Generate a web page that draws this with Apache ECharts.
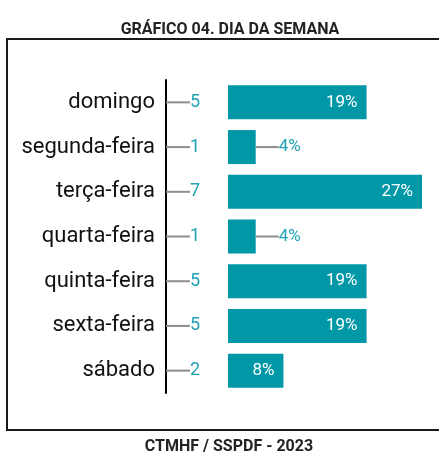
<!DOCTYPE html>
<html>
<head>
<meta charset="utf-8">
<script src="https://cdn.jsdelivr.net/npm/echarts@6/dist/echarts.min.js"></script>
<style>
  html, body { margin: 0; padding: 0; background: #fff; }
  #chart { width: 439px; height: 455px; }
</style>
</head>
<body>
<div id="chart"></div>
<script>
// Dias da semana e contagens
const days = ['domingo', 'segunda-feira', 'terça-feira', 'quarta-feira', 'quinta-feira', 'sexta-feira', 'sábado']
const counts = [5, 1, 7, 1, 5, 5, 2]
const percents = [19, 4, 27, 4, 19, 19, 8]

const TEAL = '#0097a7'
const TEXT_TEAL = '#1fa2b4'
const LEADER = '#8e8e8e'

const chart = echarts.init(document.getElementById('chart'))

// small bars get the percent outside, with a leader line
const barData = counts.map((v, i) => {
  if (v > 1) return v
  return {
    value: v,
    label: {
      position: 'right',
      distance: 0,
      formatter: '{l|}{p|' + percents[i] + '%}',
    },
  }
})

const option = {
  animation: false,
  textStyle: { fontFamily: 'Roboto' },
  graphic: [
    {
      type: 'rect',
      shape: { x: 7, y: 39, width: 440, height: 391 },
      style: { fill: 'none', stroke: '#1a1a1a', lineWidth: 2 },
    },
    {
      type: 'text',
      x: 230,
      y: 30,
      style: {
        text: 'GRÁFICO 04. DIA DA SEMANA',
        fontFamily: 'Roboto',
        fontWeight: 'bold',
        fontSize: 16,
        fill: '#222',
        align: 'center',
        verticalAlign: 'middle',
      },
    },
    {
      type: 'text',
      x: 229,
      y: 447,
      style: {
        text: 'CTMHF / SSPDF - 2023',
        fontFamily: 'Roboto',
        fontWeight: 'bold',
        fontSize: 16,
        fill: '#222',
        align: 'center',
        verticalAlign: 'middle',
      },
    },
  ],
  grid: { left: 228, right: 17, top: 80, bottom: 62 },
  xAxis: {
    type: 'value',
    min: 0,
    max: 7,
    show: false,
  },
  yAxis: {
    type: 'category',
    data: days,
    inverse: true,
    offset: 62,
    axisLine: { show: true, onZero: false, lineStyle: { color: '#000', width: 2 } },
    axisTick: { show: false },
    axisLabel: { fontSize: 22, color: '#111', margin: 11 },
  },
  series: [
    {
      type: 'bar',
      data: barData,
      barWidth: 34,
      itemStyle: { color: TEAL },
      label: {
        show: true,
        position: 'insideRight',
        distance: 9,
        color: '#fff',
        fontSize: 17,
        formatter: p => percents[p.dataIndex] + '%',
        rich: {
          l: { width: 23, height: 2, backgroundColor: LEADER },
          p: { color: TEXT_TEAL, fontSize: 17 },
        },
      },
    },
    {
      // invisible twin, only carries the count label left of the bar
      type: 'bar',
      data: counts,
      barWidth: 34,
      barGap: '-100%',
      silent: true,
      itemStyle: { color: 'rgba(0,0,0,0)' },
      label: {
        show: true,
        position: [-62, '50%'],
        align: 'left',
        verticalAlign: 'middle',
        formatter: '{l|}{n|{c}}',
        rich: {
          l: { width: 24, height: 2, backgroundColor: LEADER },
          n: { color: TEXT_TEAL, fontSize: 18 },
        },
      },
    },
  ],
}

chart.setOption(option)
</script>
</body>
</html>
